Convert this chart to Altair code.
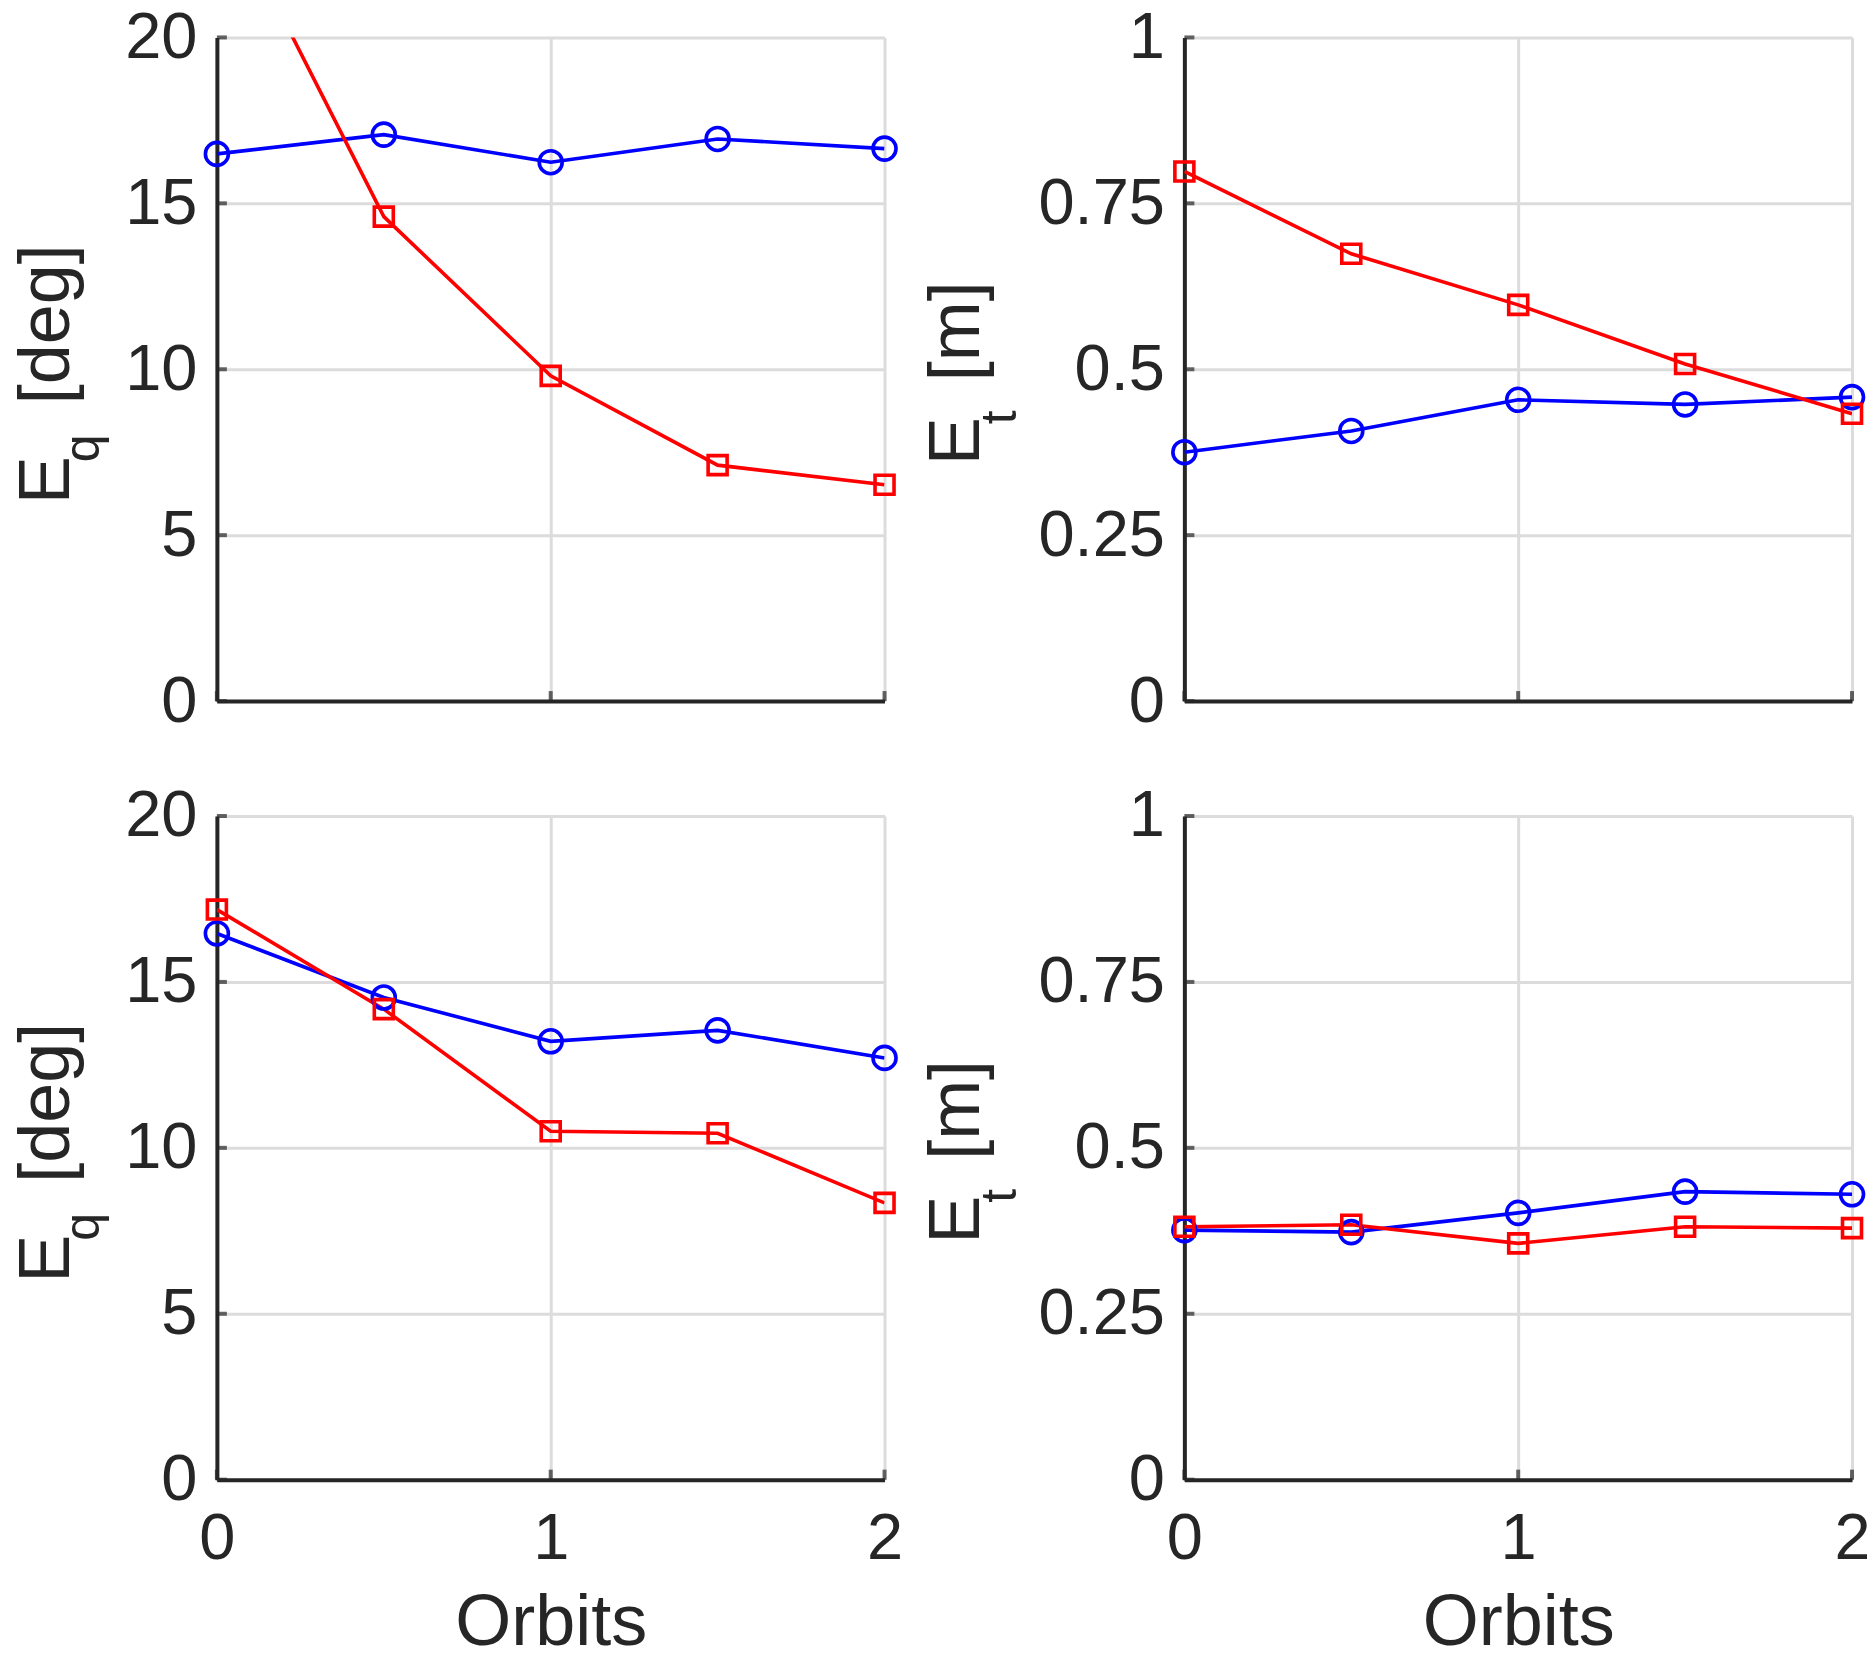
import altair as alt
import pandas as pd

# ---- data ----
orbits = [0, 0.5, 1, 1.5, 2]
series_names = ["blue", "red"]

eq_top_blue = [16.49, 17.07, 16.24, 16.94, 16.65]
eq_top_red = [24.5, 14.60, 9.80, 7.11, 6.52]
et_top_blue = [0.375, 0.407, 0.454, 0.447, 0.458]
et_top_red = [0.798, 0.674, 0.597, 0.508, 0.433]
eq_bot_blue = [16.46, 14.53, 13.21, 13.54, 12.71]
eq_bot_red = [17.18, 14.18, 10.50, 10.44, 8.34]
et_bot_blue = [0.376, 0.373, 0.402, 0.434, 0.430]
et_bot_red = [0.381, 0.384, 0.356, 0.381, 0.379]

eq_ticks = [0, 5, 10, 15, 20]
et_ticks = [0, 0.25, 0.5, 0.75, 1]
x_ticks = [0, 1, 2]

eq_title = ["E", "q", "[deg]"]
et_title = ["E", "t", "[m]"]
x_title = "Orbits"

# ---- style ----
W, H = 668, 664
FONT = "Liberation Sans"
TXT = "#262626"
GRID = "#dcdcdc"
BLUE = "#0000ff"
RED = "#ff0000"
TICK_FS = 65
TITLE_FS = 72
SUB_FS = 50
LW = 3.6


def panel(blue, red, yticks, ymax, title_parts, title_pos, bottom):
    df = pd.DataFrame({
        "x": orbits + orbits,
        "y": blue + red,
        "s": ["blue"] * len(orbits) + ["red"] * len(orbits),
    })
    xscale = alt.Scale(domain=[0, 2], nice=False, zero=False)
    yscale = alt.Scale(domain=[0, ymax], nice=False)
    xaxis = alt.Axis(
        values=x_ticks, labelExpr="'' + datum.value", grid=True, gridColor=GRID, gridWidth=3,
        domainColor=TXT, domainWidth=4, ticks=False, tickSize=0,
        labels=bottom, labelFont=FONT, labelFontSize=TICK_FS, labelColor=TXT,
        labelPadding=28, labelFlush=False,
        title=x_title if bottom else "", titleFont=FONT, titleFontSize=TITLE_FS,
        titleFontWeight="normal", titleColor=TXT, titlePadding=16,
    )
    yaxis = alt.Axis(
        values=yticks, labelExpr="'' + datum.value", grid=True, gridColor=GRID, gridWidth=3,
        domainColor=TXT, domainWidth=4, ticks=False, tickSize=0,
        labelFont=FONT, labelFontSize=TICK_FS, labelColor=TXT,
        labelPadding=20, labelFlush=False, title="",
    )
    X = alt.X("x:Q", scale=xscale, axis=xaxis)
    Y = alt.Y("y:Q", scale=yscale, axis=yaxis)
    base = alt.Chart(df)

    lines = base.mark_line(strokeWidth=LW, clip=True).encode(
        x=X, y=Y,
        color=alt.Color("s:N", scale=alt.Scale(domain=series_names, range=[BLUE, RED]), legend=None),
    )
    circles = base.transform_filter(alt.datum.s == "blue").mark_point(
        shape="circle", size=529, filled=False, strokeWidth=LW, color=BLUE, opacity=1
    ).encode(x=X, y=Y)
    squares = base.transform_filter(
        (alt.datum.s == "red") & (alt.datum.y <= ymax)
    ).mark_point(
        shape="square", size=361, filled=False, strokeWidth=LW, color=RED, opacity=1
    ).encode(x=X, y=Y)

    yt = alt.Chart(pd.DataFrame({"y": yticks})).mark_tick(
        orient="horizontal", size=10, thickness=4, color=TXT
    ).encode(y=Y, x=alt.value(5))
    xt = alt.Chart(pd.DataFrame({"x": x_ticks})).mark_tick(
        orient="vertical", size=10, thickness=4, color=TXT
    ).encode(x=X, y=alt.value(H - 5))

    sizes = [TITLE_FS, SUB_FS, TITLE_FS]
    texts = []
    for part, (px, py), fs in zip(title_parts, title_pos, sizes):
        texts.append(
            alt.Chart(pd.DataFrame({"t": [part]})).mark_text(
                angle=270, align="left", baseline="alphabetic",
                font=FONT, fontSize=fs, color=TXT,
            ).encode(text="t:N", x=alt.value(px), y=alt.value(py))
        )

    return alt.layer(lines, circles, squares, yt, xt, *texts).properties(width=W, height=H)


DY = 8
eq_pos = [(-148, 459 + DY), (-118, 417 + DY), (-148, 359 + DY)]
et_pos = [(-205, 420 + DY), (-168, 379 + DY), (-205, 336 + DY)]

tl = panel(eq_top_blue, eq_top_red, eq_ticks, 20, eq_title, eq_pos, False)
tr = panel(et_top_blue, et_top_red, et_ticks, 1, et_title, et_pos, False)
bl = panel(eq_bot_blue, eq_bot_red, eq_ticks, 20, eq_title, eq_pos, True)
br = panel(et_bot_blue, et_bot_red, et_ticks, 1, et_title, et_pos, True)

chart = alt.concat(
    tl, tr, bl, br, columns=2, spacing={"row": 115, "column": 300}, bounds="flush"
).configure_view(
    stroke=None
).properties(padding={"left": 3, "top": -3, "right": -4, "bottom": -9}, background="white")

chart.save("out.html", embed_options={"renderer": "svg", "actions": False})
